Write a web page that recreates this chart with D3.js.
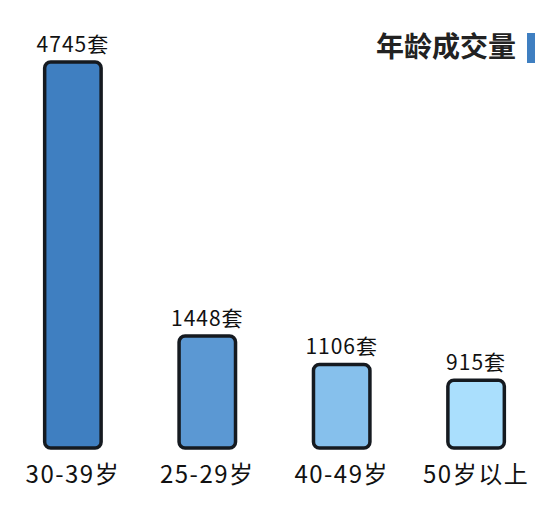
<!DOCTYPE html>
<html><head><meta charset="utf-8">
<script src="https://cdn.jsdelivr.net/npm/d3@7"></script>
<style>body{margin:0;background:#fff}text{font-family:"Noto Sans CJK SC","DejaVu Sans",sans-serif}</style>
</head><body><div id="chart"></div>
<script>
// --- Data ---
const categories = ['30-39岁', '25-29岁', '40-49岁', '50岁以上'];
const values = [4745, 1448, 1106, 915];
const colors = ['#3f7fc1', '#5b98d3', '#86c0ec', '#aadffd'];

const W = 553, H = 512;
const svg = d3.select('#chart').append('svg').attr('width', W).attr('height', H);

const x = d3.scaleBand().domain(categories).range([3, 546]).paddingInner(0.58).paddingOuter(0.31);
const y = d3.scaleLinear().domain([100, 4745]).range([448, 62]);

// Bars
svg.selectAll('.bar').data(values).enter().append('rect')
    .attr('x', (d, i) => x(categories[i]))
    .attr('y', d => y(d))
    .attr('width', x.bandwidth())
    .attr('height', d => 448 - y(d))
    .attr('rx', 6)
    .attr('fill', (d, i) => colors[i])
    .attr('stroke', '#151a20')
    .attr('stroke-width', 3.5);

// Value labels
svg.selectAll('.val').data(values).enter().append('text')
    .attr('x', (d, i) => x(categories[i]) + x.bandwidth() / 2)
    .attr('y', d => y(d) - 10)
    .attr('text-anchor', 'middle')
    .attr('font-size', 21).attr('letter-spacing', 1).attr('fill', '#111')
    .text(d => d + '套');

// Category axis labels
svg.selectAll('.cat').data(categories).enter().append('text')
    .attr('x', d => x(d) + x.bandwidth() / 2)
    .attr('y', 483)
    .attr('text-anchor', 'middle')
    .attr('font-size', 24).attr('letter-spacing', 1.5).attr('fill', '#111')
    .text(d => d);

// Title
svg.append('text').attr('x', 516).attr('y', 57).attr('text-anchor', 'end')
    .attr('font-size', 28).attr('font-weight', 'bold').attr('fill', '#222')
    .text('年龄成交量');
svg.append('rect').attr('x', 527).attr('y', 33).attr('width', 8).attr('height', 30).attr('fill', '#3f7fc1');
</script></body></html>
